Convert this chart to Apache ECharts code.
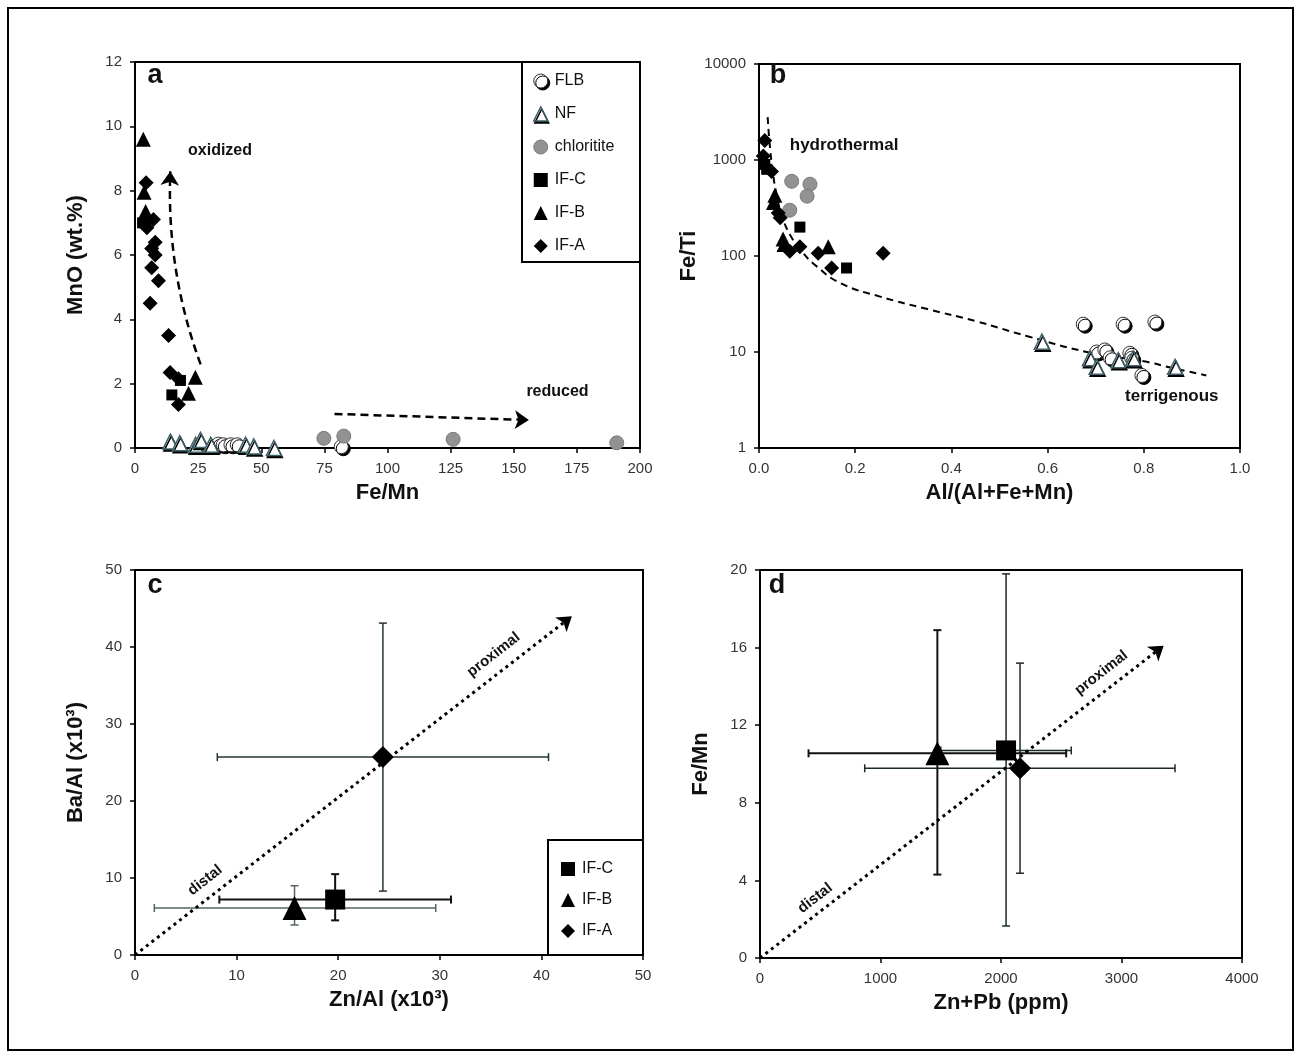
<!DOCTYPE html>
<html>
<head>
<meta charset="utf-8">
<script src="https://cdn.jsdelivr.net/npm/echarts@6/dist/echarts.min.js"></script>
<style>
    html, body { margin: 0; padding: 0; background: #fff; }
    #chart { width: 1302px; height: 1059px; }
</style>
</head>
<body>
<div id="chart"></div>
<script>
// panel a : MnO vs Fe/Mn
var flbA = [[33, 0.12], [35, 0.1], [38, 0.1], [40.5, 0.1], [81.7, 0.04]];
var nfA = [[14, 0.2], [17.7, 0.15], [24, 0.1], [25.9, 0.25], [30, 0.1], [43.8, 0.1], [47, 0.05], [55, 0]];
var chlA = [[74.8, 0.3], [82.7, 0.37], [126, 0.27], [190.8, 0.16]];
var ifcA = [[3, 7.0], [14.6, 1.65], [18, 2.1]];
var ifbA = [[3.3, 9.6], [3.6, 7.95], [4.2, 7.35], [21.2, 1.7], [23.9, 2.2]];
var ifaA = [[4.4, 8.25], [4, 7.0], [7.3, 7.1], [4.7, 6.85], [8, 6.4], [6.6, 6.2], [8, 6.0], [6.6, 5.6],
    [9.3, 5.2], [6, 4.5], [13.3, 3.5], [13.9, 2.35], [17.2, 2.15], [17.2, 1.35]];
var oxidizedArrow = [[26, 2.6], [14, 8.6]];
var reducedArrow = [[79, 1.06], [156, 0.87]];

// panel b : Fe/Ti vs Al/(Al+Fe+Mn)
var flbB = [[0.674, 19.5], [0.757, 19.5], [0.823, 20.5], [0.796, 5.7], [0.702, 10], [0.719, 10.5],
    [0.73, 8.7], [0.771, 9.7], [0.775, 8.6]];
var nfB = [[0.588, 12.8], [0.688, 8.6], [0.702, 7.0], [0.747, 8.2], [0.778, 8.6], [0.865, 7.0]];
var chlB = [[0.068, 600], [0.106, 560], [0.10, 420], [0.064, 300]];
var ifcB = [[0.012, 900], [0.016, 800], [0.085, 200], [0.182, 75]];
var ifbB = [[0.033, 430], [0.03, 360], [0.05, 150], [0.052, 132], [0.144, 125]];
var ifaB = [[0.012, 1600], [0.009, 1100], [0.026, 760], [0.044, 250], [0.04, 280], [0.064, 112],
    [0.085, 125], [0.123, 107], [0.151, 75], [0.258, 107]];
var trendB = [[0.018, 2800], [0.022, 1500], [0.028, 800], [0.036, 450], [0.048, 260], [0.065, 165],
    [0.09, 110], [0.12, 78], [0.17, 52], [0.25, 38], [0.35, 28], [0.45, 21], [0.56, 14.5],
    [0.69, 9.8], [0.8, 8], [0.86, 6.8], [0.93, 5.7]];

// panels c, d : mean x, mean y, x low, x high, y low, y high
var ifcC = [19.7, 7.2, 8.3, 31.1, 4.5, 10.5];
var ifbC = [15.7, 6.1, 1.9, 29.6, 3.9, 9.0];
var ifaC = [24.4, 25.7, 8.1, 40.7, 8.3, 43.1];
var trendC = [[0, 0], [43, 44]];

var ifcD = [2042, 10.7, 1500, 2583, 1.65, 19.8];
var ifbD = [1472, 10.55, 403, 2541, 4.3, 16.9];
var ifaD = [2158, 9.78, 869, 3444, 4.37, 15.2];
var trendD = [[0, 0], [3350, 16.1]];

var legendA = ['FLB', 'NF', 'chloritite', 'IF-C', 'IF-B', 'IF-A'];
var legendC = ['IF-C', 'IF-B', 'IF-A'];

var FONT = '"Liberation Sans", Arial, sans-serif';

var styles = {
    'FLB': { symbol: 'circle', size: 14, item: { color: '#fff', borderColor: '#333', borderWidth: 1, opacity: 1,
        shadowColor: '#000', shadowBlur: 0, shadowOffsetX: 2, shadowOffsetY: 2 } },
    'NF': { symbol: 'triangle', size: 15, item: { color: '#fff', borderColor: '#3e6068', borderWidth: 1.5, opacity: 1,
        shadowColor: '#000', shadowBlur: 0, shadowOffsetX: 1, shadowOffsetY: 2 } },
    'chloritite': { symbol: 'circle', size: 14, item: { color: '#909294', borderColor: '#7a7c7e', borderWidth: 1, opacity: 1 } },
    'IF-C': { symbol: 'rect', size: 11, item: { color: '#000', opacity: 1 } },
    'IF-B': { symbol: 'triangle', size: 15, item: { color: '#000', opacity: 1 } },
    'IF-A': { symbol: 'diamond', size: 15, item: { color: '#000', opacity: 1 } }
};

function points(name, idx, data, big) {
    var s = styles[name];
    return {
        name: name,
        type: 'scatter',
        xAxisIndex: idx,
        yAxisIndex: idx,
        symbol: s.symbol,
        symbolSize: big ? big : s.size,
        itemStyle: s.item,
        data: data,
        z: 5
    };
}

function legendItems(names) {
    return names.map(function (n) {
        return { name: n, icon: styles[n].symbol, itemStyle: styles[n].item };
    });
}

function errorBars(color, width) {
    return function (params, api) {
        var x = api.value(0), y = api.value(1);
        var l = api.coord([api.value(2), y]);
        var r = api.coord([api.value(3), y]);
        var b = api.coord([x, api.value(4)]);
        var t = api.coord([x, api.value(5)]);
        var cap = 4;
        var style = { stroke: color, lineWidth: width };
        var seg = function (x1, y1, x2, y2) {
            return { type: 'line', shape: { x1: x1, y1: y1, x2: x2, y2: y2 }, style: style };
        };
        return {
            type: 'group',
            children: [
                seg(l[0], l[1], r[0], r[1]),
                seg(l[0], l[1] - cap, l[0], l[1] + cap),
                seg(r[0], r[1] - cap, r[0], r[1] + cap),
                seg(b[0], b[1], t[0], t[1]),
                seg(b[0] - cap, b[1], b[0] + cap, b[1]),
                seg(t[0] - cap, t[1], t[0] + cap, t[1])
            ]
        };
    };
}

function bars(idx, row, color, width) {
    return {
        type: 'custom',
        xAxisIndex: idx,
        yAxisIndex: idx,
        renderItem: errorBars(color, width),
        encode: { x: 0, y: 1 },
        data: [row],
        silent: true,
        z: 3
    };
}

function arrow(idx, coords, dash, width, curve) {
    return {
        type: 'lines',
        coordinateSystem: 'cartesian2d',
        xAxisIndex: idx,
        yAxisIndex: idx,
        symbol: ['none', 'arrow'],
        symbolSize: 14,
        silent: true,
        lineStyle: { color: '#000', width: width, type: dash, curveness: curve || 0, opacity: 1 },
        data: [{ coords: coords }],
        z: 4
    };
}

function notes(idx, items, size, rotate, align) {
    return {
        type: 'scatter',
        xAxisIndex: idx,
        yAxisIndex: idx,
        symbolSize: 0,
        silent: true,
        itemStyle: { opacity: 1 },
        data: items.map(function (it) {
            return { value: it[1], label: { formatter: it[0] } };
        }),
        label: {
            show: true,
            position: [0, 0],
            align: align || 'left',
            verticalAlign: 'middle',
            rotate: rotate || 0,
            fontFamily: FONT,
            fontSize: size,
            fontWeight: 'bold',
            color: '#111'
        },
        z: 6
    };
}

function plain(v) {
    return String(v);
}

function axis(extra) {
    return Object.assign({
        nameLocation: 'middle',
        nameTextStyle: { fontFamily: FONT, fontSize: 22, fontWeight: 'bold', color: '#111' },
        axisLine: { show: true, onZero: false, lineStyle: { color: '#000', width: 2 } },
        axisTick: { show: true, inside: false, length: 5, lineStyle: { color: '#000', width: 1.5 } },
        axisLabel: { fontFamily: FONT, fontSize: 15, color: '#333', margin: 13, formatter: plain },
        splitLine: { show: false }
    }, extra);
}

var gridBase = { show: true, borderColor: '#000', borderWidth: 2, containLabel: false };
var legendText = { fontFamily: FONT, fontSize: 16, color: '#111', padding: [0, 0, 0, 2] };

var option = {
    animation: false,
    backgroundColor: '#fff',
    textStyle: { fontFamily: FONT },
    grid: [
        Object.assign({ left: 135, top: 62, width: 505, height: 386 }, gridBase),
        Object.assign({ left: 759, top: 64, width: 481, height: 384 }, gridBase),
        Object.assign({ left: 135, top: 570, width: 508, height: 385 }, gridBase),
        Object.assign({ left: 760, top: 570, width: 482, height: 388 }, gridBase)
    ],
    xAxis: [
        axis({ gridIndex: 0, type: 'value', min: 0, max: 200, interval: 25, name: 'Fe/Mn', nameGap: 34 }),
        axis({ gridIndex: 1, type: 'value', min: 0, max: 1, interval: 0.2, name: 'Al/(Al+Fe+Mn)', nameGap: 34,
            axisLabel: { fontFamily: FONT, fontSize: 15, color: '#333', margin: 13,
                formatter: function (v) { return v.toFixed(1); } } }),
        axis({ gridIndex: 2, type: 'value', min: 0, max: 50, interval: 10, name: 'Zn/Al (x10³)', nameGap: 34 }),
        axis({ gridIndex: 3, type: 'value', min: 0, max: 4000, interval: 1000, name: 'Zn+Pb (ppm)', nameGap: 34 })
    ],
    yAxis: [
        axis({ gridIndex: 0, type: 'value', min: 0, max: 12, interval: 2, name: 'MnO (wt.%)', nameGap: 48 }),
        axis({ gridIndex: 1, type: 'log', logBase: 10, min: 1, max: 10000, name: 'Fe/Ti', nameGap: 48 }),
        axis({ gridIndex: 2, type: 'value', min: 0, max: 50, interval: 10, name: 'Ba/Al (x10³)', nameGap: 48 }),
        axis({ gridIndex: 3, type: 'value', min: 0, max: 20, interval: 4, name: 'Fe/Mn', nameGap: 48 })
    ],
    legend: [
        { data: legendItems(legendA), orient: 'vertical', left: 533, top: 73, padding: 0, itemWidth: 14, itemHeight: 14,
            itemGap: 17, selectedMode: false, textStyle: legendText },
        { data: legendItems(legendC), orient: 'vertical', left: 561, top: 861, padding: 0, itemWidth: 14, itemHeight: 14,
            itemGap: 15, selectedMode: false, textStyle: legendText }
    ],
    graphic: [
        { type: 'rect', shape: { x: 8, y: 8, width: 1285, height: 1042 }, style: { fill: 'none', stroke: '#000', lineWidth: 2 } },
        { type: 'rect', shape: { x: 522, y: 62, width: 118, height: 200 }, style: { fill: '#fff', stroke: '#000', lineWidth: 2 }, z: 1 },
        { type: 'rect', shape: { x: 548, y: 840, width: 95, height: 115 }, style: { fill: '#fff', stroke: '#000', lineWidth: 2 }, z: 1 },
        { type: 'text', style: { x: 155, y: 76, text: 'a', font: 'bold 27px ' + FONT, fill: '#111', textAlign: 'center', textVerticalAlign: 'middle' } },
        { type: 'text', style: { x: 778, y: 76, text: 'b', font: 'bold 27px ' + FONT, fill: '#111', textAlign: 'center', textVerticalAlign: 'middle' } },
        { type: 'text', style: { x: 155, y: 586, text: 'c', font: 'bold 27px ' + FONT, fill: '#111', textAlign: 'center', textVerticalAlign: 'middle' } },
        { type: 'text', style: { x: 777, y: 586, text: 'd', font: 'bold 27px ' + FONT, fill: '#111', textAlign: 'center', textVerticalAlign: 'middle' } }
    ],
    series: [
        // a
        points('FLB', 0, flbA),
        points('NF', 0, nfA),
        points('chloritite', 0, chlA),
        points('IF-C', 0, ifcA),
        points('IF-B', 0, ifbA),
        points('IF-A', 0, ifaA),
        arrow(0, oxidizedArrow, [8, 5], 2.5, 0.1),
        arrow(0, reducedArrow, [8, 5], 2.5, 0),
        notes(0, [['oxidized', [21, 9.25]], ['reduced', [155, 1.74]]], 16),
        // b
        {
            type: 'line', xAxisIndex: 1, yAxisIndex: 1, data: trendB, smooth: true, showSymbol: false,
            symbol: 'none', silent: true, lineStyle: { color: '#000', width: 2, type: [7, 5] }, z: 4
        },
        points('FLB', 1, flbB),
        points('NF', 1, nfB),
        points('chloritite', 1, chlB),
        points('IF-C', 1, ifcB),
        points('IF-B', 1, ifbB),
        points('IF-A', 1, ifaB),
        notes(1, [['hydrothermal', [0.064, 1430]], ['terrigenous', [0.761, 3.48]]], 17),
        // c
        arrow(2, trendC, [3, 4], 3, 0),
        bars(2, ifaC, '#243535', 1.5),
        bars(2, ifbC, '#556363', 1.5),
        bars(2, ifcC, '#111', 2),
        points('IF-C', 2, [ifcC.slice(0, 2)], 20),
        points('IF-B', 2, [ifbC.slice(0, 2)], 24),
        points('IF-A', 2, [ifaC.slice(0, 2)], 22),
        notes(2, [['distal', [6.9, 9.7]], ['proximal', [35.3, 39.0]]], 15, 38, 'center'),
        // d
        arrow(3, trendD, [3, 4], 3, 0),
        bars(3, ifcD, '#1c2a2a', 1.5),
        bars(3, ifaD, '#1c2a2a', 1.5),
        bars(3, ifbD, '#111', 2),
        points('IF-C', 3, [ifcD.slice(0, 2)], 20),
        points('IF-B', 3, [ifbD.slice(0, 2)], 24),
        points('IF-A', 3, [ifaD.slice(0, 2)], 22),
        notes(3, [['distal', [458, 3.08]], ['proximal', [2833, 14.7]]], 15, 38, 'center')
    ]
};

var chart = echarts.init(document.getElementById('chart'));
chart.setOption(option);
</script>
</body>
</html>
